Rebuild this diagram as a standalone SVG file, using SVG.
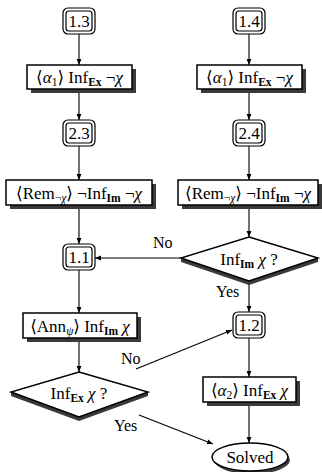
<svg xmlns="http://www.w3.org/2000/svg" width="322" height="472" viewBox="0 0 322 472">
<defs>
<marker id="ah" viewBox="0 0 10 10" refX="10" refY="5" markerWidth="6" markerHeight="6" orient="auto" markerUnits="userSpaceOnUse">
<path d="M0,1 L10,5 L0,9 Z" fill="#000"/>
</marker>
<style>
text{font-family:"Liberation Serif","DejaVu Serif",serif;font-size:17px;fill:#000}
.sub{font-size:11.5px;font-weight:bold}
.subi{font-size:11.5px;font-style:italic}
.sn{font-size:11.5px}
.it{font-style:italic}
.lbl{font-size:16px}
.box{fill:#fff;stroke:#000;stroke-width:1.5}
.sh{fill:#3a3a3a}
.ob{fill:#fff;stroke:#000;stroke-width:1.2}
.ib{fill:none;stroke:#000;stroke-width:1.2}
.cn{fill:none;stroke:#000;stroke-width:1.1;marker-end:url(#ah)}
</style>
</defs>

<g id="connectors">
<line class="cn" x1="79" y1="34" x2="79" y2="65"/>
<line class="cn" x1="79" y1="89" x2="79" y2="120"/>
<line class="cn" x1="79" y1="146" x2="79" y2="180"/>
<line class="cn" x1="79" y1="205" x2="79" y2="244"/>
<line class="cn" x1="79" y1="270" x2="79" y2="313"/>
<line class="cn" x1="79" y1="338" x2="79" y2="372"/>
<line class="cn" x1="249" y1="34" x2="249" y2="65"/>
<line class="cn" x1="249" y1="89" x2="249" y2="120"/>
<line class="cn" x1="249" y1="146" x2="249" y2="180"/>
<line class="cn" x1="249" y1="205" x2="249" y2="237"/>
<line class="cn" x1="249" y1="281" x2="249" y2="312"/>
<line class="cn" x1="249" y1="338" x2="249" y2="377"/>
<line class="cn" x1="249" y1="402" x2="249" y2="443"/>
<line class="cn" x1="181" y1="258" x2="95" y2="258"/>
<line class="cn" x1="136" y1="369" x2="232" y2="330"/>
<line class="cn" x1="139" y1="415" x2="213" y2="444"/>
<text class="lbl" x="153" y="248">No</text>
<text class="lbl" x="216" y="297">Yes</text>
<text class="lbl" x="121" y="364">No</text>
<text class="lbl" x="114" y="431">Yes</text>
</g>

<g id="n13">
<rect class="ob" x="63" y="8" width="32" height="26" rx="5"/>
<rect class="ib" x="66" y="11" width="26" height="20" rx="3"/>
<text x="79" y="27" text-anchor="middle">1.3</text>
</g>
<g id="n14">
<rect class="ob" x="233" y="8" width="32" height="26" rx="5"/>
<rect class="ib" x="236" y="11" width="26" height="20" rx="3"/>
<text x="249" y="27" text-anchor="middle">1.4</text>
</g>

<g id="a1left">
<rect class="sh" x="31" y="69" width="105" height="24"/>
<rect class="box" x="27" y="65" width="105" height="24"/>
<text x="79.5" y="83" text-anchor="middle">⟨<tspan class="it">α</tspan><tspan class="sn" dy="3">1</tspan><tspan dy="-3">⟩ Inf</tspan><tspan class="sub" dy="3">Ex</tspan><tspan dy="-3"> ¬</tspan><tspan class="it">χ</tspan></text>
</g>
<g id="a1right">
<rect class="sh" x="201" y="69" width="105" height="24"/>
<rect class="box" x="197" y="65" width="105" height="24"/>
<text x="249.5" y="83" text-anchor="middle">⟨<tspan class="it">α</tspan><tspan class="sn" dy="3">1</tspan><tspan dy="-3">⟩ Inf</tspan><tspan class="sub" dy="3">Ex</tspan><tspan dy="-3"> ¬</tspan><tspan class="it">χ</tspan></text>
</g>

<g id="n23">
<rect class="ob" x="63" y="120" width="32" height="26" rx="5"/>
<rect class="ib" x="66" y="123" width="26" height="20" rx="3"/>
<text x="79" y="139" text-anchor="middle">2.3</text>
</g>
<g id="n24">
<rect class="ob" x="233" y="120" width="32" height="26" rx="5"/>
<rect class="ib" x="236" y="123" width="26" height="20" rx="3"/>
<text x="249" y="139" text-anchor="middle">2.4</text>
</g>

<g id="remleft">
<rect class="sh" x="10" y="184" width="146" height="25"/>
<rect class="box" x="6" y="180" width="146" height="25"/>
<text x="79" y="198.5" text-anchor="middle">⟨Rem<tspan class="sn" dy="3">¬</tspan><tspan class="subi">χ</tspan><tspan dy="-3">⟩ ¬Inf</tspan><tspan class="sub" dy="3">Im</tspan><tspan dy="-3"> ¬</tspan><tspan class="it">χ</tspan></text>
</g>
<g id="remright">
<rect class="sh" x="182" y="184" width="140" height="25"/>
<rect class="box" x="178" y="180" width="140" height="25"/>
<text x="248" y="198.5" text-anchor="middle">⟨Rem<tspan class="sn" dy="3">¬</tspan><tspan class="subi">χ</tspan><tspan dy="-3">⟩ ¬Inf</tspan><tspan class="sub" dy="3">Im</tspan><tspan dy="-3"> ¬</tspan><tspan class="it">χ</tspan></text>
</g>

<g id="dImChi">
<path d="M181,258 L249,281 L318,258 L318,262 L249,285 L181,262 Z" fill="#3a3a3a"/>
<path class="box" d="M249,237 L318,258 L249,281 L181,258 Z"/>
<text x="249" y="265" text-anchor="middle">Inf<tspan class="sub" dy="3">Im</tspan><tspan dy="-3"> </tspan><tspan class="it">χ</tspan> ?</text>
</g>

<g id="n11">
<rect class="ob" x="63" y="244" width="32" height="26" rx="5"/>
<rect class="ib" x="66" y="247" width="26" height="20" rx="3"/>
<text x="79" y="263" text-anchor="middle">1.1</text>
</g>
<g id="n12">
<rect class="ob" x="233" y="312" width="32" height="26" rx="5"/>
<rect class="ib" x="236" y="315" width="26" height="20" rx="3"/>
<text x="249" y="331" text-anchor="middle">1.2</text>
</g>

<g id="ann">
<rect class="sh" x="27" y="317" width="114" height="25"/>
<rect class="box" x="23" y="313" width="114" height="25"/>
<text x="80" y="331.5" text-anchor="middle">⟨Ann<tspan class="subi" dy="3">ψ</tspan><tspan dy="-3">⟩ Inf</tspan><tspan class="sub" dy="3">Im</tspan><tspan dy="-3"> </tspan><tspan class="it">χ</tspan></text>
</g>

<g id="dExChi">
<path d="M11,392 L79,417 L148,392 L148,396 L79,421 L11,396 Z" fill="#3a3a3a"/>
<path class="box" d="M79,372 L148,392 L79,417 L11,392 Z"/>
<text x="79" y="399" text-anchor="middle">Inf<tspan class="sub" dy="3">Ex</tspan><tspan dy="-3"> </tspan><tspan class="it">χ</tspan> ?</text>
</g>

<g id="a2">
<rect class="sh" x="207" y="381" width="93" height="25"/>
<rect class="box" x="203" y="377" width="93" height="25"/>
<text x="249.5" y="395.5" text-anchor="middle">⟨<tspan class="it">α</tspan><tspan class="sn" dy="3">2</tspan><tspan dy="-3">⟩ Inf</tspan><tspan class="sub" dy="3">Ex</tspan><tspan dy="-3"> </tspan><tspan class="it">χ</tspan></text>
</g>

<g id="solved">
<ellipse cx="252" cy="460" rx="38" ry="14" fill="#3a3a3a"/>
<ellipse cx="250" cy="457" rx="38" ry="14" class="box"/>
<text x="250" y="463" text-anchor="middle">Solved</text>
</g>
</svg>
